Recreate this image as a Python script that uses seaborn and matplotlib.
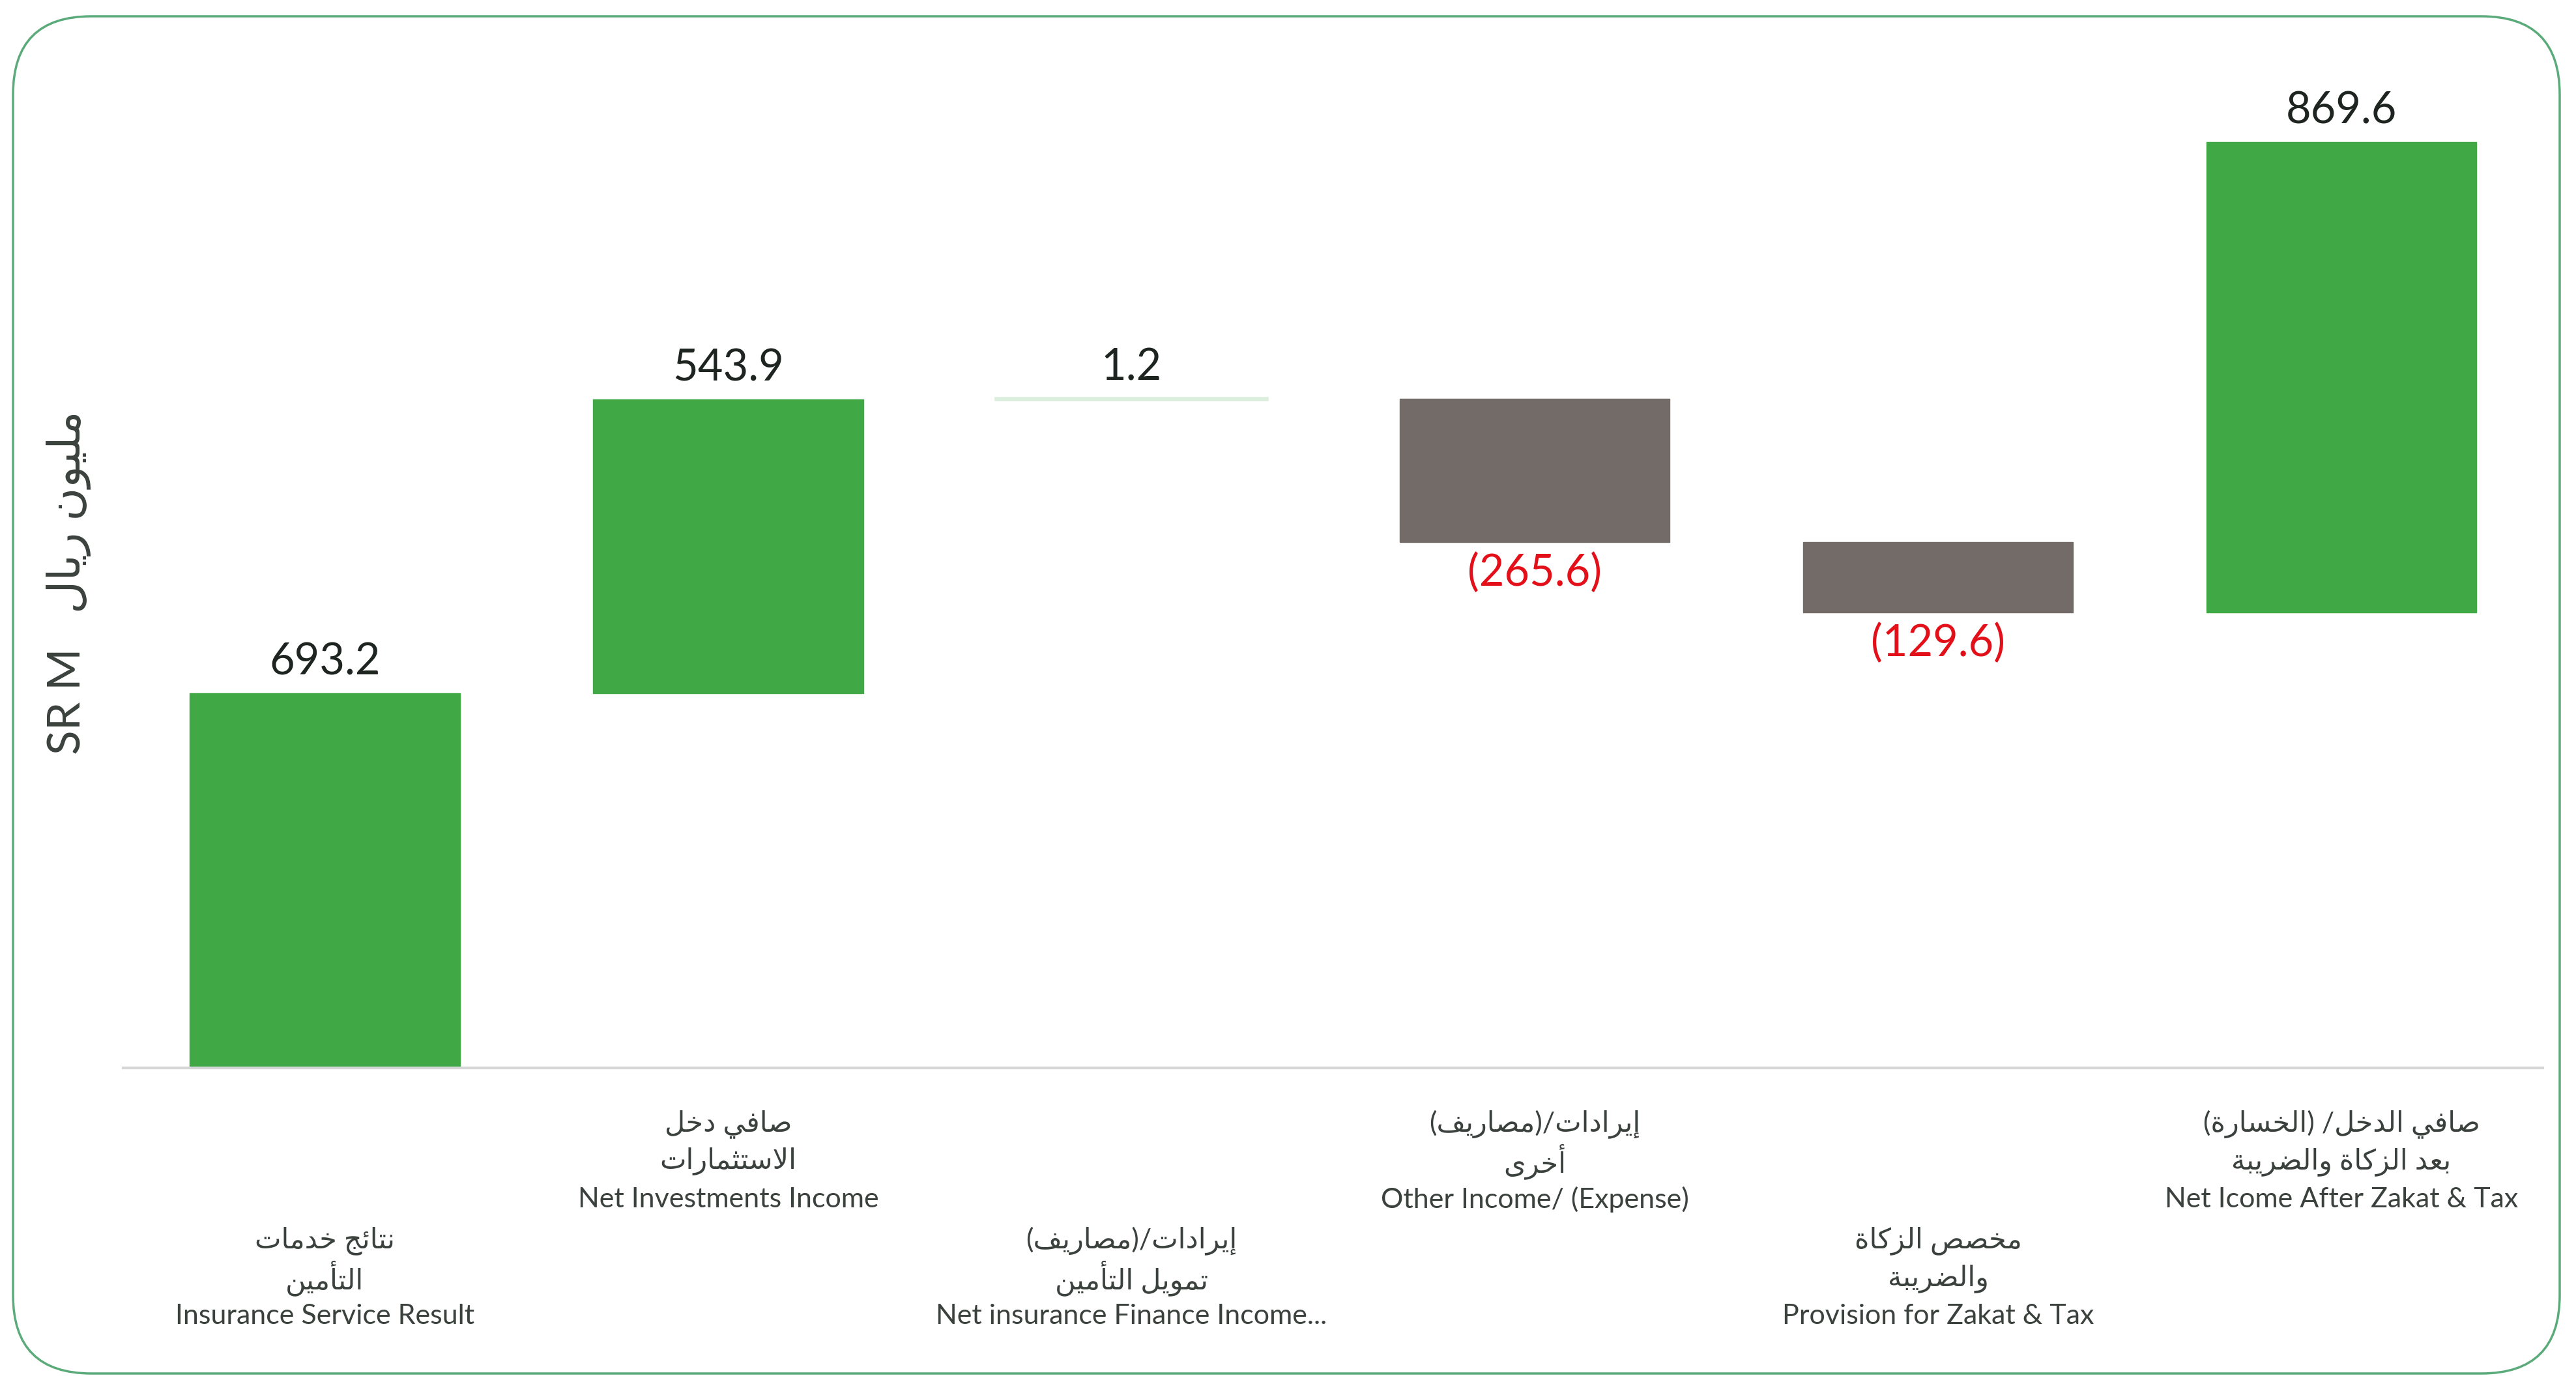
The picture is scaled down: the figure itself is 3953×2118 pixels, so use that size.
import matplotlib
matplotlib.use("Agg")
import matplotlib.pyplot as plt
import matplotlib.transforms as mtransforms
from matplotlib.patches import FancyBboxPatch
import seaborn as sns
import pandas as pd

# Data (SR M)
categories_en = ["Insurance Service Result", "Net Investments Income",
                 "Net insurance Finance Income...", "Other Income/ (Expense)",
                 "Provision for Zakat & Tax", "Net Icome After Zakat & Tax"]
categories_ar1 = ["نتائج خدمات", "صافي دخل", "إيرادات/(مصاريف)",
                  "إيرادات/(مصاريف)", "مخصص الزكاة", "صافي الدخل/ (الخسارة)"]
categories_ar2 = ["التأمين", "الاستثمارات", "تمويل التأمين",
                  "أخرى", "والضريبة", "بعد الزكاة والضريبة"]
values = [693.2, 543.9, 1.2, -265.6, -129.6, 869.6]
value_labels = ["693.2", "543.9", "1.2", "(265.6)", "(129.6)", "869.6"]
y_label_en = "SR M"
y_label_ar = "مليون ريال"

bar_colors = ["#40A845", "#40A845", "#DCEEDD", "#736B67", "#736B67", "#40A845"]

# matplotlib has no arabic shaping, so join letters by hand
AR_FORMS = {
    'ء': (0xFE80, 1), 'آ': (0xFE81, 2), 'أ': (0xFE83, 2), 'ؤ': (0xFE85, 2),
    'إ': (0xFE87, 2), 'ئ': (0xFE89, 4), 'ا': (0xFE8D, 2), 'ب': (0xFE8F, 4),
    'ة': (0xFE93, 2), 'ت': (0xFE95, 4), 'ث': (0xFE99, 4), 'ج': (0xFE9D, 4),
    'ح': (0xFEA1, 4), 'خ': (0xFEA5, 4), 'د': (0xFEA9, 2), 'ذ': (0xFEAB, 2),
    'ر': (0xFEAD, 2), 'ز': (0xFEAF, 2), 'س': (0xFEB1, 4), 'ش': (0xFEB5, 4),
    'ص': (0xFEB9, 4), 'ض': (0xFEBD, 4), 'ط': (0xFEC1, 4), 'ظ': (0xFEC5, 4),
    'ع': (0xFEC9, 4), 'غ': (0xFECD, 4), 'ف': (0xFED1, 4), 'ق': (0xFED5, 4),
    'ك': (0xFED9, 4), 'ل': (0xFEDD, 4), 'م': (0xFEE1, 4), 'ن': (0xFEE5, 4),
    'ه': (0xFEE9, 4), 'و': (0xFEED, 2), 'ى': (0xFEEF, 2), 'ي': (0xFEF1, 4),
}
LAM_ALEF = {'ا': 0xFEFB, 'أ': 0xFEF7, 'إ': 0xFEF9, 'آ': 0xFEF5}


def shape_ar(text):
    out = []
    i = 0
    while i < len(text):
        c = text[i]
        if c not in AR_FORMS:
            out.append(c)
            i += 1
            continue
        prev = text[i - 1] if i > 0 else ""
        joins_prev = prev in AR_FORMS and AR_FORMS[prev][1] == 4
        if c == 'ل' and i + 1 < len(text) and text[i + 1] in LAM_ALEF:
            out.append(chr(LAM_ALEF[text[i + 1]] + int(joins_prev)))
            i += 2
            continue
        nxt = text[i + 1] if i + 1 < len(text) else ""
        base, n = AR_FORMS[c]
        joins_next = n == 4 and nxt in AR_FORMS
        if joins_prev and joins_next:
            form = 3
        elif joins_prev and n > 1:
            form = 1
        elif joins_next:
            form = 2
        else:
            form = 0
        out.append(chr(base + form))
        i += 1
    mirror = {"(": ")", ")": "("}
    return "".join(mirror.get(ch, ch) for ch in reversed(out))


# waterfall bases
bottoms = []
running = 0
for v in values:
    bottoms.append(running)
    running += v

df = pd.DataFrame({"category": categories_en, "value": values, "bottom": bottoms})

sns.set_theme(style="white")
plt.rcParams["font.family"] = ["Lato", "DejaVu Sans"]

W, H = 3953, 2118
fig = plt.figure(figsize=(W / 100, H / 100), dpi=100)
ax = fig.add_axes([0.0478, 0.2262, 0.9394, 0.744])

sns.barplot(data=df, x="category", y="value", bottom=df["bottom"].values,
            color="#40A845", width=0.67, errorbar=None, ax=ax)
for patch, col in zip(ax.patches, bar_colors):
    patch.set_facecolor(col)
    patch.set_edgecolor(col)
ax.patches[2].set_linewidth(4)

ax.set_xlim(-0.5, 5.5)
ax.set_ylim(0, 1900)
ax.set_xticks([])
ax.set_yticks([])
ax.set_xlabel("")
ax.set_ylabel("")
for s in ["left", "right", "top"]:
    ax.spines[s].set_visible(False)
ax.spines["bottom"].set_color("#D6D6D6")
ax.spines["bottom"].set_linewidth(3)

# value labels
for i, (v, b, lab) in enumerate(zip(values, bottoms, value_labels)):
    end = b + v
    if v >= 0:
        ax.text(i, end + 20, lab, ha="center", va="bottom", fontsize=48,
                color="#1E2420")
    else:
        ax.text(i, end - 20, lab, ha="center", va="top", fontsize=48,
                color="#E3101A")

# staggered category labels
trans = mtransforms.blended_transform_factory(ax.transData, fig.transFigure)
for i in range(len(categories_en)):
    top = 755 if i % 2 == 0 else 684
    rows = [top, top + 23, top + 46]
    texts = [shape_ar(categories_ar1[i]), shape_ar(categories_ar2[i]), categories_en[i]]
    for y, t in zip(rows, texts):
        ax.text(i, 1 - y / 840, t, transform=trans, ha="center", va="center",
                fontsize=31, color="#3B423D")

# y axis title
fig.text(106 / W, 0.578, y_label_en + "   " + shape_ar(y_label_ar), rotation=90,
         ha="center", va="center", fontsize=50, color="#3B423D")

# rounded frame
frame = FancyBboxPatch((20, 10), W - 45, H - 35,
                       boxstyle="round,pad=0,rounding_size=120",
                       transform=mtransforms.IdentityTransform(),
                       facecolor="none", edgecolor="#5BAA7A", linewidth=2.5)
fig.add_artist(frame)

fig.savefig("out.png", dpi=100)
